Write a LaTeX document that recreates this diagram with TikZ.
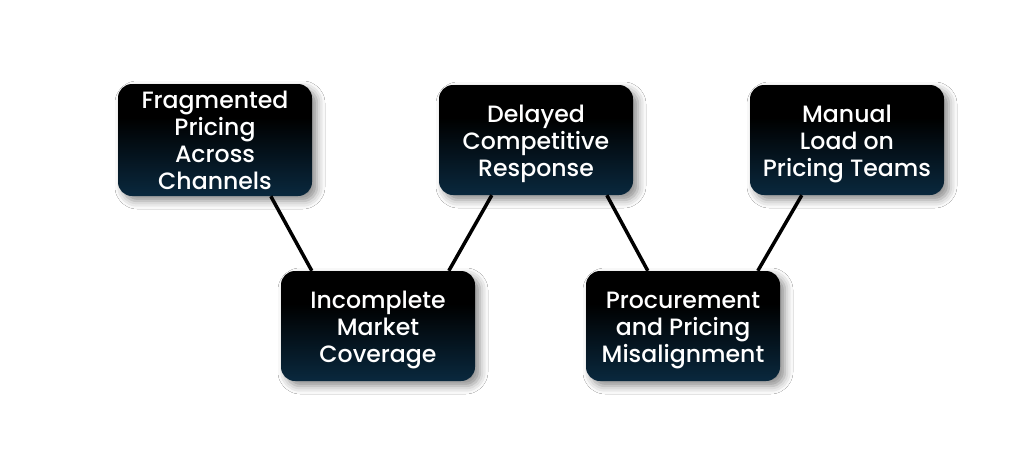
\documentclass[tikz,border=0pt]{standalone}
\usepackage{fontspec}
\setmainfont{Poppins Medium}
\usetikzlibrary{calc,shadows.blur}
\definecolor{boxblue}{HTML}{0E3C5C}
\pgfdeclareverticalshading{boxshade}{100bp}{color(0bp)=(boxblue); color(8bp)=(boxblue); color(60bp)=(black); color(100bp)=(black)}
\newcommand{\boxtext}[2]{\raisebox{#1}[\height][\depth]{\begin{tabular}{@{}c@{}}#2\end{tabular}}}
\tikzset{
  box/.style={rectangle, rounded corners=14pt, shading=boxshade, minimum width=194pt, minimum height=110pt,
    text=white, inner sep=2pt, font=\fontsize{23.6pt}{27pt}\selectfont,
    blur shadow={shadow xshift=5pt, shadow yshift=-5pt, shadow blur radius=8pt, shadow opacity=45}},
  link/.style={line width=3.5pt, black}
}
\begin{document}
\begin{tikzpicture}[x=1pt,y=-1pt]
\useasboundingbox (0,0) rectangle (1026,466);
\fill[white] (0,0) rectangle (1026,466);
\node[box] (b1) at (215,140) {\boxtext{-4pt}{Fragmented\\Pricing\\Across\\Channels}};
\node[box] (b2) at (536,140) {\boxtext{-4pt}{Delayed\\Competitive\\Response}};
\node[box] (b3) at (847,140) {\boxtext{-4pt}{Manual\\Load on\\Pricing Teams}};
\node[box] (b4) at (378,326) {\boxtext{-4pt}{Incomplete\\Market\\Coverage}};
\node[box] (b5) at (683,326) {\boxtext{-4pt}{Procurement\\and Pricing\\Misalignment}};
\draw[link] ($(b1.south west)+(153,0)$) -- ($(b4.north west)+(31,0)$);
\draw[link] ($(b4.north west)+(168,0)$) -- ($(b2.south west)+(53,0)$);
\draw[link] ($(b2.south west)+(168,0)$) -- ($(b5.north west)+(62,0)$);
\draw[link] ($(b5.north west)+(172,0)$) -- ($(b3.south west)+(52,0)$);
\end{tikzpicture}
\end{document}
